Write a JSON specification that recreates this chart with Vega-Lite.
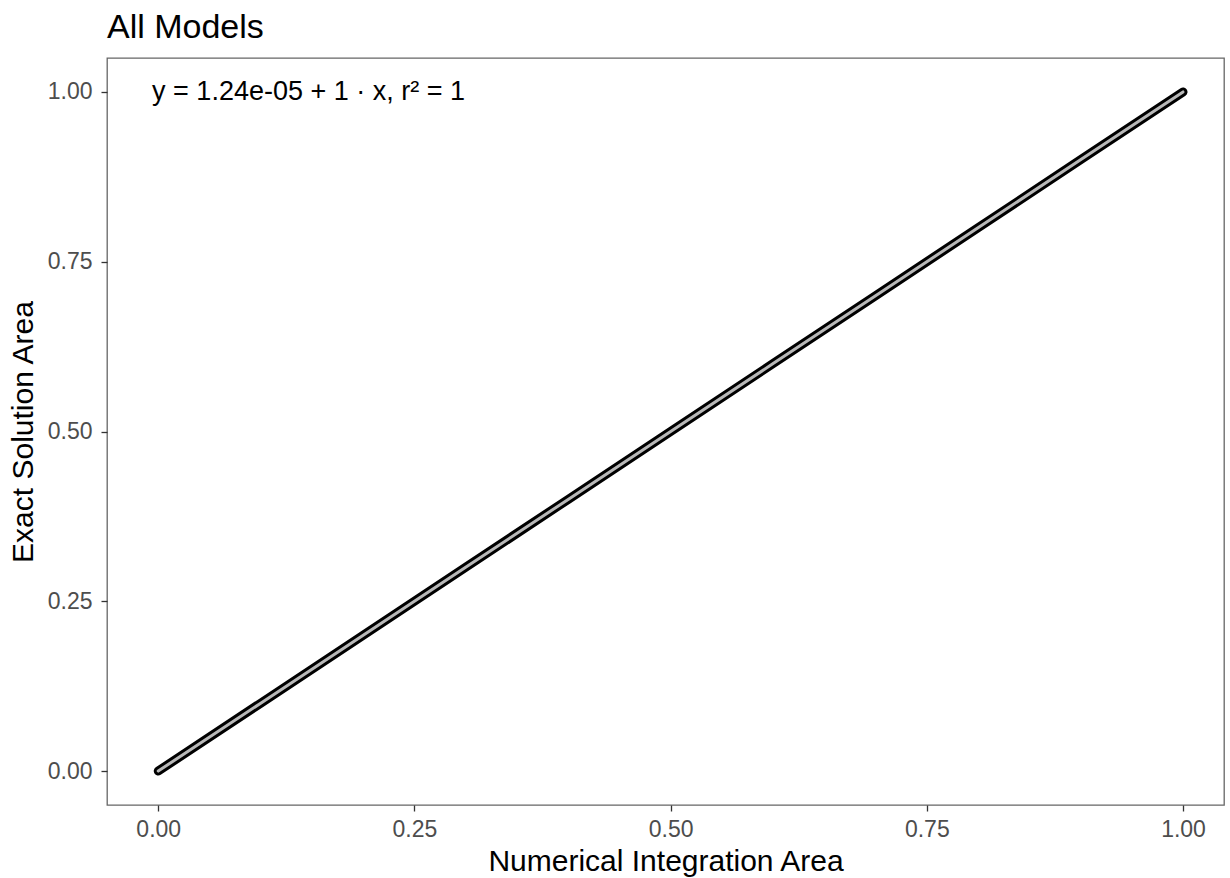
{
  "$schema": "https://vega.github.io/schema/vega-lite/v6.json",
  "autosize": {"type": "none"},
  "width": 1117,
  "height": 747,
  "padding": {"left": 107, "top": 58, "right": 6, "bottom": 73},
  "background": "white",
  "title": {"text": "All Models", "anchor": "start", "frame": "group", "font": "Liberation Sans", "fontSize": 34, "fontWeight": "normal", "color": "#000000", "offset": 13},
  "config": {
    "view": {"stroke": "#666666", "strokeWidth": 1.3},
    "axis": {"grid": false, "domain": false, "tickColor": "#333333", "tickSize": 6, "tickWidth": 1.3, "labelFont": "Liberation Sans", "labelFontSize": 23, "labelColor": "#4d4d4d", "titleFont": "Liberation Sans", "titleFontSize": 30, "titleFontWeight": "normal", "titleColor": "#000000"}
  },
  "data": {"values": [
    {"num": 0.0, "exact": 0.0},
    {"num": 0.1, "exact": 0.1},
    {"num": 0.2, "exact": 0.2},
    {"num": 0.3, "exact": 0.3},
    {"num": 0.4, "exact": 0.4},
    {"num": 0.5, "exact": 0.5},
    {"num": 0.6, "exact": 0.6},
    {"num": 0.7, "exact": 0.7},
    {"num": 0.8, "exact": 0.8},
    {"num": 0.9, "exact": 0.9},
    {"num": 1.0, "exact": 1.0}
  ]},
  "encoding": {
    "x": {"field": "num", "type": "quantitative", "title": "Numerical Integration Area", "scale": {"domain": [-0.05, 1.04], "nice": false, "zero": false}, "axis": {"values": [0, 0.25, 0.5, 0.75, 1], "format": ".2f", "labelPadding": 7, "titlePadding": 5}},
    "y": {"field": "exact", "type": "quantitative", "title": "Exact Solution Area", "scale": {"domain": [-0.05, 1.05], "nice": false, "zero": false}, "axis": {"values": [0, 0.25, 0.5, 0.75, 1], "format": ".2f", "labelPadding": 9, "titlePadding": 9}}
  },
  "layer": [
    {"mark": {"type": "line", "color": "#000000", "strokeWidth": 9, "strokeCap": "round", "strokeJoin": "round"}},
    {"mark": {"type": "line", "color": "#b8b8b8", "strokeWidth": 3, "strokeCap": "round", "strokeJoin": "round"}},
    {
      "data": {"values": [{"tx": -0.006, "ty": 1.0, "label": "y = 1.24e-05 + 1 · x,  r² = 1"}]},
      "mark": {"type": "text", "align": "left", "baseline": "middle", "font": "Liberation Sans", "fontSize": 27, "color": "#000000"},
      "encoding": {
        "x": {"field": "tx", "type": "quantitative"},
        "y": {"field": "ty", "type": "quantitative"},
        "text": {"field": "label"}
      }
    }
  ]
}
